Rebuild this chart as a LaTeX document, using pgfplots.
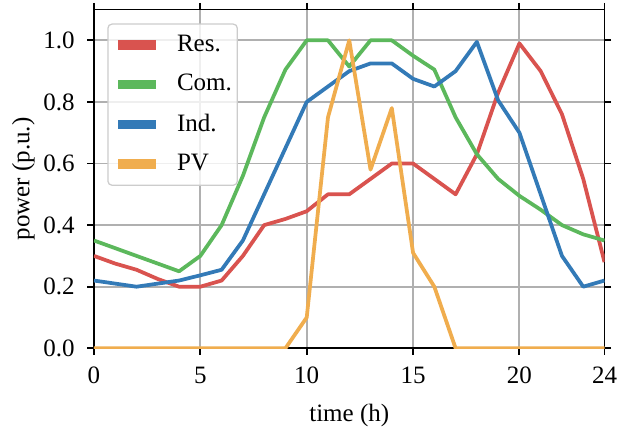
\documentclass[12pt,border=0pt]{standalone}
\usepackage{fontspec}
\setmainfont{Liberation Serif}
\usepackage{pgfplots}
\pgfplotsset{compat=1.18}
\definecolor{cres}{HTML}{D9534F}
\definecolor{ccom}{HTML}{5CB85C}
\definecolor{cind}{HTML}{337AB7}
\definecolor{cpv}{HTML}{F0AD4E}
\begin{document}
\begin{tikzpicture}
\begin{axis}[
  scale only axis, width=245.04pt, height=162.6pt,
  xmin=0, xmax=24, ymin=0, ymax=1.1,
  xtick={0,5,10,15,20,24},
  ytick={0,0.2,0.4,0.6,0.8,1.0},
  yticklabels={0.0,0.2,0.4,0.6,0.8,1.0},
  xticklabels={0,5,10,15,20,24},
  yticklabel style={xshift=-1.9pt},
  xticklabel style={yshift=-1.5pt},
  tick label style={font=\rmfamily\fontsize{12}{14}\selectfont},
  grid=major, grid style={color=black!31, line width=0.9pt},
  tick align=outside, major tick length=3.2pt,
  tick style={black, line width=0.9pt},
  axis line style={line width=0.9pt},
  xlabel={time (h)}, ylabel={power (p.u.)},
  xlabel style={at={(axis description cs:0.5,-0.2165)}, anchor=base, font=\rmfamily\fontsize{12}{14}\selectfont},
  ylabel style={at={(axis description cs:-0.1265,0.5)}, anchor=base, font=\rmfamily\fontsize{12}{14}\selectfont},
  legend cell align=left,
  legend style={at={(0.026,0.959)}, anchor=north west,
    font=\rmfamily\fontsize{12}{14}\selectfont,
    draw=black!20, line width=0.6pt, rounded corners=2pt,
    fill=white, fill opacity=0.8, text opacity=1,
    inner xsep=2.6pt, inner ysep=3.3pt, row sep=5.2pt,
    nodes={inner xsep=0pt},
    /tikz/every odd column/.append style={column sep=8pt}},
  legend image code/.code={\draw[line width=4.6pt] (0pt,0pt) -- (18pt,0pt);},
  every axis plot/.append style={line width=1.8pt, line join=round},
]
\addplot[cres] coordinates {(0,0.30)(1,0.275)(2,0.255)(3,0.225)(4,0.20)(5,0.20)(6,0.22)(7,0.30)(8,0.40)(9,0.42)(10,0.445)(11,0.50)(12,0.50)(13,0.55)(14,0.60)(15,0.60)(16,0.55)(17,0.50)(18,0.63)(19,0.83)(20,0.99)(21,0.90)(22,0.76)(23,0.55)(24,0.28)};
\addlegendentry{Res.\hspace{3.4pt}}
\addplot[ccom] coordinates {(0,0.35)(1,0.325)(2,0.30)(3,0.275)(4,0.25)(5,0.30)(6,0.40)(7,0.56)(8,0.75)(9,0.905)(10,1.0)(11,1.0)(12,0.915)(13,1.0)(14,1.0)(15,0.95)(16,0.905)(17,0.75)(18,0.63)(19,0.55)(20,0.495)(21,0.45)(22,0.40)(23,0.37)(24,0.35)};
\addlegendentry{Com.\hspace{3.4pt}}
\addplot[cind] coordinates {(0,0.22)(1,0.21)(2,0.20)(3,0.21)(4,0.22)(5,0.237)(6,0.255)(7,0.35)(8,0.50)(9,0.65)(10,0.80)(11,0.85)(12,0.90)(13,0.925)(14,0.925)(15,0.875)(16,0.85)(17,0.90)(18,0.995)(19,0.805)(20,0.70)(21,0.50)(22,0.30)(23,0.20)(24,0.22)};
\addlegendentry{Ind.\hspace{3.4pt}}
\addplot[cpv] coordinates {(0,0)(1,0)(2,0)(3,0)(4,0)(5,0)(6,0)(7,0)(8,0)(9,0)(10,0.10)(11,0.75)(12,1.0)(13,0.58)(14,0.78)(15,0.31)(16,0.20)(17,0)(18,0)(19,0)(20,0)(21,0)(22,0)(23,0)(24,0)};
\addlegendentry{PV\hspace{3.4pt}\rule[-3.2pt]{0pt}{3.2pt}}
\end{axis}
\pgfresetboundingbox
\path[use as bounding box] (-45.12pt,-38.26pt) rectangle (251.52pt,167.18pt);
\end{tikzpicture}
\end{document}
